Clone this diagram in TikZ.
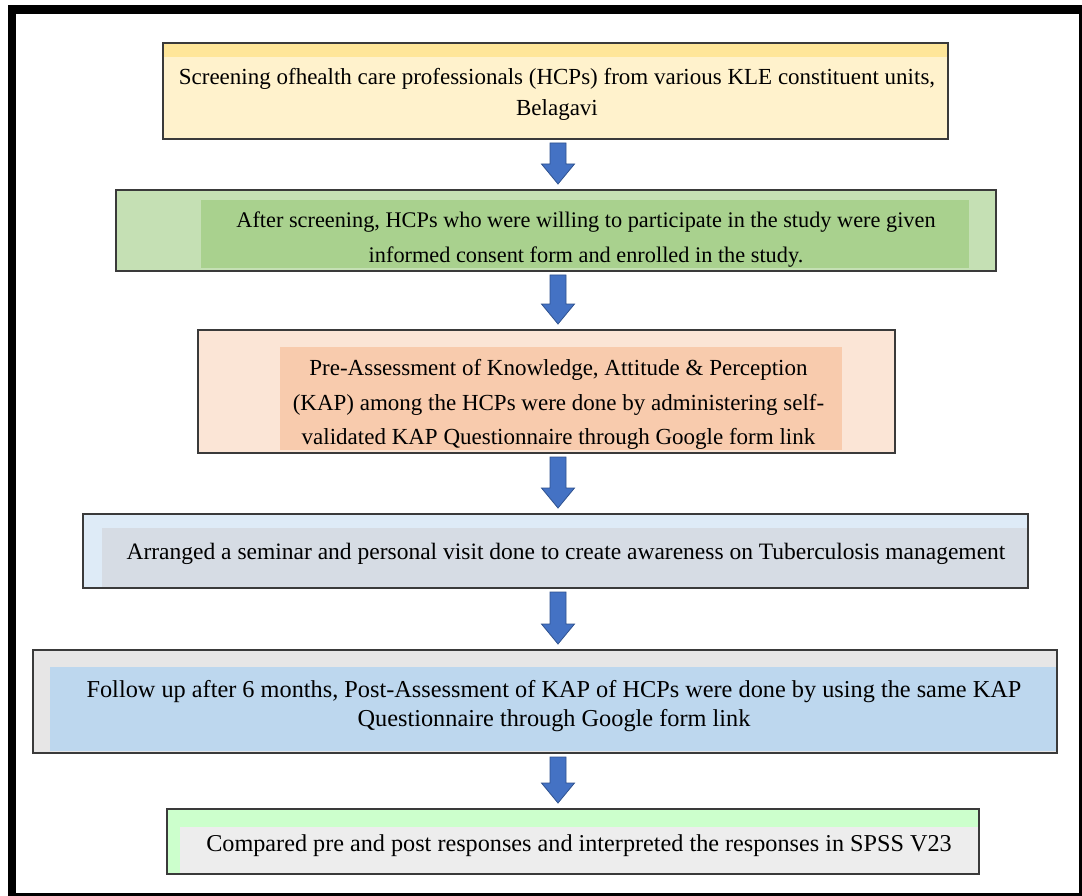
\documentclass[tikz,border=0pt]{standalone}
\usepackage{fontspec}
\setmainfont{Liberation Serif}
\usepackage{tikz}
\usetikzlibrary{calc,backgrounds,positioning}

\definecolor{yelA}{HTML}{FFF2CC}
\definecolor{yelB}{HTML}{FFE699}
\definecolor{grnA}{HTML}{C5E0B4}
\definecolor{grnB}{HTML}{A9D18E}
\definecolor{pchA}{HTML}{FBE5D6}
\definecolor{pchB}{HTML}{F8CBAD}
\definecolor{bluA}{HTML}{DEEBF7}
\definecolor{gryB}{HTML}{D6DCE4}
\definecolor{gryA}{HTML}{E7E6E6}
\definecolor{bluB}{HTML}{BDD7EE}
\definecolor{limA}{HTML}{CCFFCC}
\definecolor{litB}{HTML}{EDEDED}
\definecolor{arrfill}{HTML}{4472C4}
\definecolor{arrline}{HTML}{2F528F}
\definecolor{edge}{HTML}{3A3A3A}

\tikzset{
  stage/.style={inner sep=0pt, outer sep=0pt},
  panel/.style={inner sep=0pt, outer sep=0pt},
  words/.style 2 args={inner sep=0pt, align=center,
    font=\fontsize{#1}{#2}\selectfont},
  flowarrow/.style={fill=arrfill, draw=arrline, line width=0.8pt, line join=miter},
}

\newcommand{\flowarrow}[2]{%
  \draw[flowarrow] let \p1=($(#1.south -| axis)+(0,4)$), \p2=($(#2.north -| axis)+(0,-6)$) in
    (\x1-8pt,\y1) -- (\x1+8pt,\y1) -- (\x1+8pt,\y2+20pt) -- (\x1+16.5pt,\y2+20pt)
    -- (\x1,\y2) -- (\x1-16.5pt,\y2+20pt) -- (\x1-8pt,\y2+20pt) -- cycle;}

\begin{document}
\begin{tikzpicture}[x=1pt,y=-1pt]
\useasboundingbox (0,0) rectangle (1082,896);
\fill[white] (0,0) rectangle (1082,896);
\coordinate (axis) at (558,0);

% outer boxes
\node[stage, fill=yelA, minimum width=785, minimum height=96] (s1) at (555.5,91) {};
\fill[yelB] (s1.north west) rectangle ($(s1.north east)+(0,14)$);
\node[stage, fill=grnA, minimum width=880, minimum height=81] (s2) at (556,230.5) {};
\node[stage, fill=pchA, minimum width=697, minimum height=123] (s3) at (546.5,391.5) {};
\node[stage, fill=bluA, minimum width=945, minimum height=74] (s4) at (555.5,551) {};
\node[stage, fill=gryA, minimum width=1024, minimum height=103] (s5) at (545,701.5) {};
\node[stage, fill=limA, minimum width=812, minimum height=65] (s6) at (573,841.5) {};

% inner panels
\node[panel, fill=grnB, minimum width=768, minimum height=68] (p2) at (585,234) {};
\node[panel, fill=pchB, minimum width=562, minimum height=103] (p3) at (561,398.5) {};
\node[panel, fill=gryB, minimum width=925, minimum height=59] (p4) at (564.5,557.5) {};
\node[panel, fill=bluB, minimum width=1006, minimum height=84] (p5) at (553,709) {};
\node[panel, fill=litB, minimum width=798, minimum height=47] (p6) at (579,850) {};

% texts
\node[words={23}{31}] (t1) at (557,94.5)
  {Screening ofhealth care professionals (HCPs) from various KLE constituent units,\\Belagavi};
\node[words={22.3}{35}] (t2) at (586,239.5)
  {After screening, HCPs who were willing to participate in the study were given\\informed consent form and enrolled in the study.};
\node[words={23}{34.5}] (t3) at (558.5,404.5)
  {Pre-Assessment of Knowledge, Attitude \& Perception\\(KAP) among the HCPs were done by administering self-\\validated KAP Questionnaire through Google form link};
\node[words={23.5}{30}] (t4) at (566,553.5)
  {Arranged a seminar and personal visit done to create awareness on Tuberculosis management};
\node[words={24.3}{29}] (t5) at (554,706.5)
  {Follow up after 6 months, Post-Assessment of KAP of HCPs were done by using the same KAP\\Questionnaire through Google form link};
\node[words={24.2}{30}] (t6) at (579,846)
  {Compared pre and post responses and interpreted the responses in SPSS V23};

% borders on top
\foreach \n in {s1,s2,s3,s4,s5,s6}
  \draw[edge, line width=1.5pt] (\n.north west) rectangle (\n.south east);

% arrows
\flowarrow{s1}{s2}
\flowarrow{s2}{s3}
\flowarrow{s3}{s4}
\flowarrow{s4}{s5}
\flowarrow{s5}{s6}

% frame
\draw[line width=8.5pt] (12,9.5) rectangle (1083,897);
\end{tikzpicture}
\end{document}
